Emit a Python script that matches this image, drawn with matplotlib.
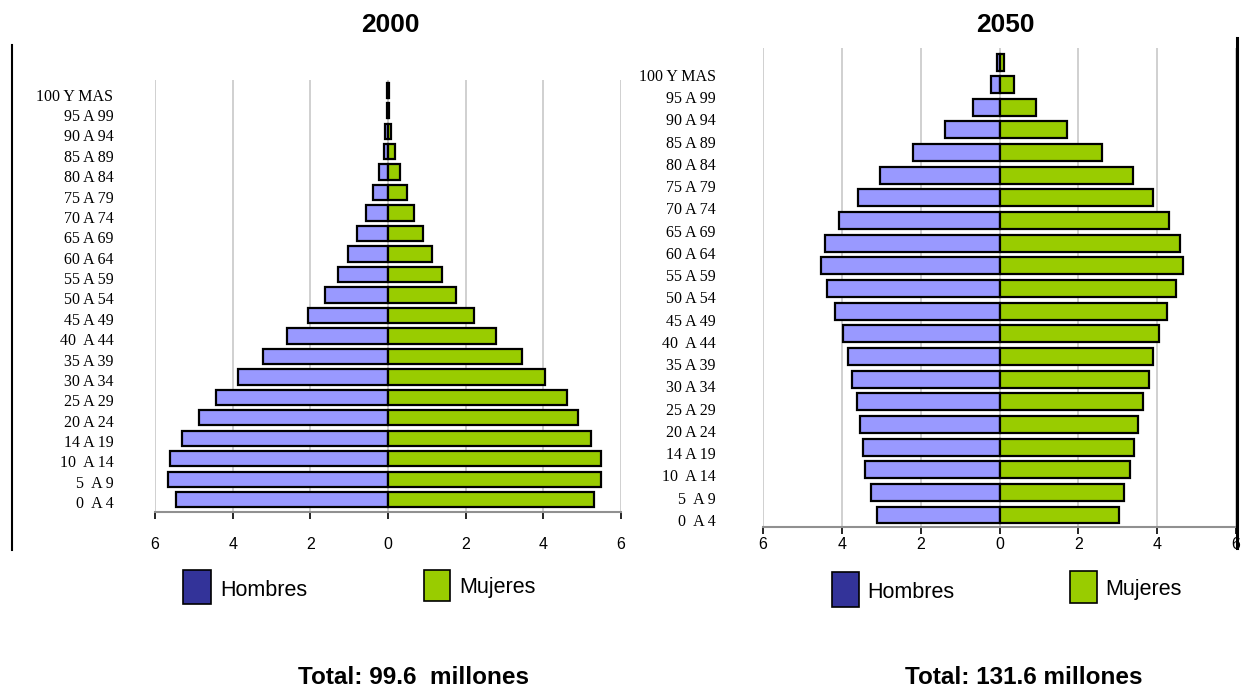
import matplotlib
matplotlib.use("Agg")
import matplotlib.pyplot as plt
from matplotlib.patches import Rectangle
from matplotlib.lines import Line2D
import numpy as np

# age groups, bottom to top
edades = ["0  A 4", "5  A 9", "10  A 14", "14 A 19", "20 A 24", "25 A 29", "30 A 34",
          "35 A 39", "40  A 44", "45 A 49", "50 A 54", "55 A 59", "60 A 64", "65 A 69",
          "70 A 74", "75 A 79", "80 A 84", "85 A 89", "90 A 94", "95 A 99", "100 Y MAS"]

# millions of people
hombres_2000 = [5.46, 5.66, 5.62, 5.30, 4.86, 4.43, 3.87, 3.23, 2.59, 2.06, 1.62,
                1.28, 1.02, 0.79, 0.57, 0.38, 0.24, 0.11, 0.08, 0.03, 0.03]
mujeres_2000 = [5.30, 5.49, 5.49, 5.23, 4.90, 4.60, 4.05, 3.44, 2.78, 2.21, 1.74,
                1.39, 1.14, 0.90, 0.68, 0.49, 0.30, 0.17, 0.08, 0.03, 0.03]
hombres_2050 = [3.11, 3.25, 3.40, 3.46, 3.54, 3.62, 3.73, 3.84, 3.98, 4.17, 4.38,
                4.52, 4.42, 4.08, 3.58, 3.04, 2.20, 1.37, 0.68, 0.22, 0.07]
mujeres_2050 = [3.02, 3.16, 3.31, 3.40, 3.51, 3.64, 3.79, 3.89, 4.04, 4.25, 4.47,
                4.65, 4.57, 4.29, 3.90, 3.39, 2.59, 1.72, 0.92, 0.37, 0.12]

ticks_x = [-6, -4, -2, 0, 2, 4, 6]
totales = ["Total: 99.6  millones", "Total: 131.6 millones"]
anios = ["2000", "2050"]

c_h = "#9999ff"
c_m = "#99cc00"
c_h_leg = "#333399"

W, H = 1245, 687
fig = plt.figure(figsize=(W / 100, H / 100), dpi=100)

def fx(px):
    return px / W

def fy(py):
    return 1 - py / H


def piramide(ax, hombres, mujeres, ylim, lab_step, lab_off, lab_pad, x_pad):
    y = np.arange(len(edades))
    ax.barh(y, -np.array(hombres), height=0.75, color=c_h, edgecolor="black", linewidth=1.6, zorder=3)
    ax.barh(y, mujeres, height=0.75, color=c_m, edgecolor="black", linewidth=1.6, zorder=3)
    ax.set_xlim(-6, 6)
    ax.set_ylim(*ylim)
    ax.set_xticks(ticks_x)
    ax.set_xticklabels([str(abs(t)) for t in ticks_x], fontsize=11.5, family="Liberation Sans")
    ax.set_yticks(y * lab_step + lab_off)
    ax.set_yticklabels(edades, fontsize=11.5, family="Liberation Serif")
    ax.tick_params(axis="y", length=0, pad=lab_pad)
    ax.tick_params(axis="x", direction="out", length=5, width=1.2, color="black", pad=x_pad)
    for s in ["top", "right", "left"]:
        ax.spines[s].set_visible(False)
    ax.spines["bottom"].set_color("#909090")
    ax.spines["bottom"].set_linewidth(1.5)
    ax.grid(axis="x", color="#c8c8c8", linewidth=1.2, zorder=0)
    ax.set_axisbelow(True)


ax1 = fig.add_axes([fx(155), fy(512), fx(621 - 155), fy(80) - fy(512)])
piramide(ax1, hombres_2000, mujeres_2000, (-0.6, 20.5), 0.995, -0.12, 30, 13)

ax2 = fig.add_axes([fx(763), fy(527), fx(1236 - 763), fy(48) - fy(527)])
piramide(ax2, hombres_2050, mujeres_2050, (-0.53, 20.62), 0.9825, -0.22, 34, 2)

# titles
fig.text(fx(390), fy(25), anios[0], ha="center", va="center", fontsize=19, fontweight="bold", family="Liberation Sans")
fig.text(fx(1005), fy(25), anios[1], ha="center", va="center", fontsize=19, fontweight="bold", family="Liberation Sans")

# frame lines
fig.add_artist(Line2D([fx(12), fx(12)], [fy(45), fy(550)], color="black", linewidth=1.5))
fig.add_artist(Line2D([fx(1237), fx(1237)], [fy(38), fy(548)], color="black", linewidth=2.2))

# legends
def leyenda(x, y, w, h, color, texto, tx, ty):
    fig.add_artist(Rectangle((fx(x), fy(y + h)), fx(w), fy(y) - fy(y + h),
                             facecolor=color, edgecolor="black", linewidth=1.2, transform=fig.transFigure))
    fig.text(fx(tx), fy(ty), texto, ha="left", va="center", fontsize=15.5, family="Liberation Sans")

leyenda(183, 570, 28, 34, c_h_leg, "Hombres", 220, 591)
leyenda(424, 570, 26, 31, c_m, "Mujeres", 459, 587)
leyenda(832, 572, 27, 35, c_h_leg, "Hombres", 867, 592)
leyenda(1070, 571, 27, 32, c_m, "Mujeres", 1105, 589)

# totals
fig.text(fx(414), fy(677), totales[0], ha="center", va="center", fontsize=17.5, fontweight="bold", family="Liberation Sans")
fig.text(fx(1024), fy(677), totales[1], ha="center", va="center", fontsize=17.5, fontweight="bold", family="Liberation Sans")

fig.savefig("out.png", dpi=100)
